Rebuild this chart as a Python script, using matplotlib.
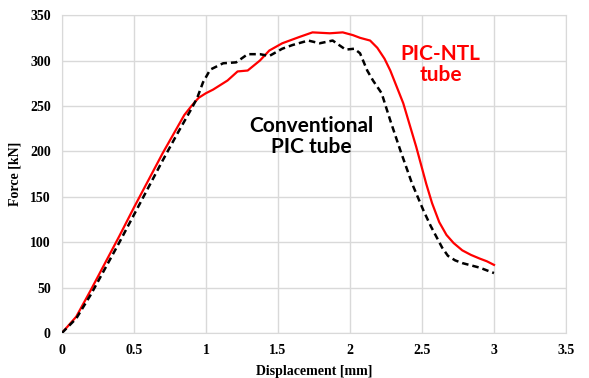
import numpy as np
import matplotlib.pyplot as plt

# displacement [mm] / force [kN]
ntl_x = [0, 0.05, 0.10, 0.2, 0.3, 0.4, 0.5, 0.6, 0.7, 0.8, 0.85, 0.9, 0.95, 1.0,
         1.05, 1.15, 1.22, 1.29, 1.375, 1.44, 1.53, 1.65, 1.74, 1.86, 1.95, 2.02,
         2.07, 2.14, 2.19, 2.24, 2.28, 2.37, 2.46, 2.53, 2.57, 2.62, 2.67, 2.72,
         2.78, 2.84, 2.90, 2.95, 3.0]
ntl_f = [0, 9, 18, 47, 77, 107, 138, 168, 198, 226, 240, 250, 259, 264,
         268, 278, 288, 289, 300, 311, 319, 326, 331, 330, 331, 328,
         325, 322, 314, 302, 289, 253, 205, 164, 143, 122, 108, 99,
         91, 86, 82, 79, 75]

conv_x = [0, 0.05, 0.10, 0.2, 0.3, 0.4, 0.5, 0.6, 0.7, 0.8, 0.9, 0.94, 0.98,
          1.03, 1.12, 1.21, 1.29, 1.375, 1.44, 1.53, 1.60, 1.71, 1.79, 1.88,
          1.97, 2.03, 2.07, 2.12, 2.16, 2.22, 2.28, 2.35, 2.43, 2.51, 2.56,
          2.60, 2.64, 2.68, 2.73, 2.78, 2.90, 3.0]
conv_f = [0, 8, 16, 42, 71, 100, 130, 160, 190, 219, 247, 259, 276,
          290, 297, 298, 307, 307, 305, 313, 317, 322, 319, 322,
          312, 313, 308, 289, 278, 264, 234, 201, 165, 135, 118,
          106, 94, 85, 80, 77, 72, 66]

x_ticks = [0, 0.5, 1, 1.5, 2, 2.5, 3, 3.5]
x_labels = ['0', '0.5', '1', '1.5', '2', '2.5', '3', '3.5']
y_ticks = [0, 50, 100, 150, 200, 250, 300, 350]

fig = plt.figure(figsize=(5.89, 3.78), dpi=100)
ax = fig.add_axes([0.105, 0.119, 0.856, 0.841])

ax.plot(ntl_x, ntl_f, color='#ff0000', lw=1.6, zorder=3)
ax.plot(conv_x, conv_f, color='black', lw=1.8, ls=(0, (2.6, 1.6)), zorder=3)

ax.set_xlim(0, 3.5)
ax.set_ylim(0, 350)
ax.set_xticks(x_ticks)
ax.set_xticklabels(x_labels)
ax.set_yticks(y_ticks)
ax.grid(True, color='#d9d9d9', lw=1)
ax.set_axisbelow(True)
for s in ax.spines.values():
    s.set_color('#d9d9d9')
ax.tick_params(length=0, pad=8)
for lab in ax.get_xticklabels() + ax.get_yticklabels():
    lab.set_fontfamily('Liberation Serif')
    lab.set_fontweight('bold')
    lab.set_fontsize(10)

ax.set_xlabel('Displacement [mm]', fontfamily='Liberation Serif',
              fontweight='bold', fontsize=10, labelpad=6)
ax.set_ylabel('Force [kN]', fontfamily='Liberation Serif',
              fontweight='bold', fontsize=10, labelpad=6)

ax.text(1.73, 216, 'Conventional\nPIC tube', ha='center', va='center',
        fontfamily='Lato', fontweight='bold', fontsize=15, color='black',
        linespacing=1.05)
ax.text(2.63, 296, 'PIC-NTL\ntube', ha='center', va='center',
        fontfamily='Lato', fontweight='bold', fontsize=15, color='#ff0000',
        linespacing=1.05)

fig.savefig('out.png', dpi=100)
